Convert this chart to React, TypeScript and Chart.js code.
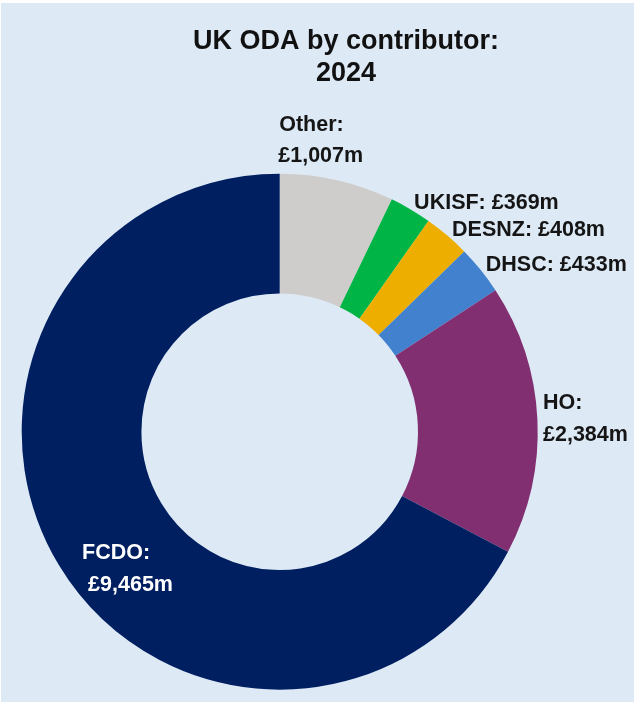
import React, { useEffect, useRef } from "react";
import { Chart, registerables } from "chart.js";

Chart.register(...registerables);

// ---- Data ----
const titleLines = ["UK ODA by contributor:", "2024"];
const categories = ["Other", "UKISF", "DESNZ", "DHSC", "HO", "FCDO"];
const values = [1007, 369, 408, 433, 2384, 9465];
const valueLabels = ["£1,007m", "£369m", "£408m", "£433m", "£2,384m", "£9,465m"];
const sliceColors = ["#cfcdcb", "#00b545", "#edae00", "#4281cd", "#822f72", "#001f61"];

// ---- Label layout (offsets relative to each arc's mid-angle anchor) ----
type LabelLayout = { anchor: "outer" | "middle"; split: boolean; offsets: [number, number][]; color: string };
const DARK = "#151515";
const labelLayout: LabelLayout[] = [
  { anchor: "outer", split: true, offsets: [[-58, -55], [-59, -24]], color: DARK },
  { anchor: "outer", split: false, offsets: [[3.5, -6.5]], color: DARK },
  { anchor: "outer", split: false, offsets: [[5, -5]], color: DARK },
  { anchor: "outer", split: false, offsets: [[5, -5]], color: DARK },
  { anchor: "outer", split: true, offsets: [[5.6, -16], [5.6, 16]], color: DARK },
  { anchor: "middle", split: true, offsets: [[-28, 19], [-22, 51]], color: "#ffffff" },
];

const BG = "#dde9f5";
const FONT = '"Liberation Sans", Arial, Helvetica, sans-serif';

const panelPlugin = {
  id: "panel",
  beforeDraw(chart: any) {
    const { ctx, width, height } = chart;
    ctx.save();
    ctx.fillStyle = "#ffffff";
    ctx.fillRect(0, 0, width, height);
    ctx.fillStyle = BG;
    ctx.fillRect(1, 3, width - 1, height - 3);
    ctx.restore();
  },
};

const titlePlugin = {
  id: "customTitle",
  afterDraw(chart: any) {
    const { ctx } = chart;
    ctx.save();
    ctx.font = `bold 27px ${FONT}`;
    ctx.fillStyle = "#111111";
    ctx.textAlign = "center";
    ctx.textBaseline = "middle";
    titleLines.forEach((line, i) => {
      ctx.fillText(line, 346, 42 + i * 32);
    });
    ctx.restore();
  },
};

const labelPlugin = {
  id: "sliceLabels",
  afterDatasetsDraw(chart: any) {
    const { ctx } = chart;
    const meta = chart.getDatasetMeta(0);
    ctx.save();
    ctx.font = `bold 21.5px ${FONT}`;
    ctx.textAlign = "left";
    ctx.textBaseline = "middle";
    meta.data.forEach((arc: any, i: number) => {
      const p = arc.getProps(["x", "y", "startAngle", "endAngle", "innerRadius", "outerRadius"], true);
      const mid = (p.startAngle + p.endAngle) / 2;
      const layout = labelLayout[i];
      const r = layout.anchor === "outer" ? p.outerRadius : (p.innerRadius + p.outerRadius) / 2;
      const ax = p.x + Math.cos(mid) * r;
      const ay = p.y + Math.sin(mid) * r;
      const lines = layout.split
        ? [`${categories[i]}:`, valueLabels[i]]
        : [`${categories[i]}: ${valueLabels[i]}`];
      ctx.fillStyle = layout.color;
      lines.forEach((t, j) => {
        const [dx, dy] = layout.offsets[j];
        ctx.fillText(t, ax + dx, ay + dy);
      });
    });
    ctx.restore();
  },
};

export default function App() {
  const canvasRef = useRef<HTMLCanvasElement | null>(null);

  useEffect(() => {
    const canvas = canvasRef.current;
    if (!canvas) return;
    const chart = new Chart(canvas, {
      type: "doughnut",
      data: {
        labels: categories,
        datasets: [
          {
            data: values,
            backgroundColor: sliceColors,
            borderWidth: 0,
            hoverOffset: 0,
            offset: 0,
          },
        ],
      },
      options: {
        responsive: false,
        animation: false,
        devicePixelRatio: 1,
        cutout: "53.6%",
        rotation: 0,
        layout: {
          padding: { left: 21.7, right: 96.3, top: 173.7, bottom: 12.3 },
        },
        plugins: {
          legend: { display: false },
          title: { display: false },
          tooltip: { enabled: false },
        },
        events: [],
      },
      plugins: [panelPlugin, titlePlugin, labelPlugin],
    });
    return () => chart.destroy();
  }, []);

  return (
    <div style={{ position: "absolute", left: 0, top: 0, width: 634, height: 702, background: "#fff" }}>
      <canvas ref={canvasRef} width={634} height={702} style={{ display: "block", width: 634, height: 702 }} />
    </div>
  );
}
